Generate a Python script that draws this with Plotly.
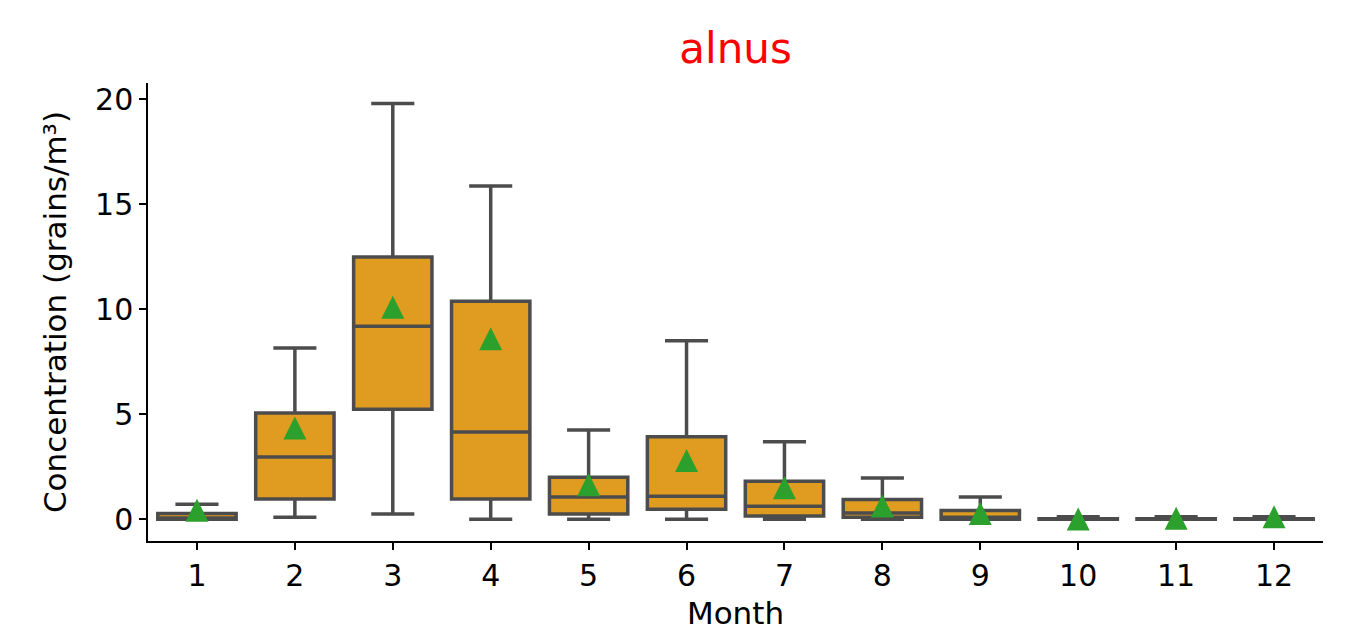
import plotly.graph_objects as go

months = ["1", "2", "3", "4", "5", "6", "7", "8", "9", "10", "11", "12"]
q1 = [0.0, 0.97, 5.24, 0.97, 0.25, 0.48, 0.16, 0.10, 0.0, 0.0, 0.0, 0.0]
median = [0.07, 2.97, 9.2, 4.16, 1.06, 1.1, 0.63, 0.3, 0.1, 0.0, 0.0, 0.0]
q3 = [0.28, 5.06, 12.49, 10.39, 2.0, 3.93, 1.82, 0.95, 0.42, 0.03, 0.03, 0.03]
lower = [0.0, 0.1, 0.25, 0.0, 0.0, 0.0, 0.0, 0.0, 0.0, 0.0, 0.0, 0.0]
upper = [0.72, 8.16, 19.8, 15.87, 4.25, 8.5, 3.7, 1.97, 1.07, 0.12, 0.12, 0.12]
means = [0.43, 4.35, 10.1, 8.6, 1.65, 2.8, 1.5, 0.64, 0.28, 0.02, 0.05, 0.12]

FONT = "DejaVu Sans"
GRAY = "#4c4c4c"
W, H = 1345, 623  # page body has an 8px margin

fig = go.Figure()
fig.add_trace(go.Box(
    x=months, q1=q1, median=median, q3=q3,
    lowerfence=lower, upperfence=upper,
    width=0.8, whiskerwidth=0.55,
    fillcolor="#df9c20",
    line=dict(color=GRAY, width=3.5),
    boxpoints=False, showlegend=False, hoverinfo="skip",
))
fig.add_trace(go.Scatter(
    x=months, y=means, mode="markers", showlegend=False,
    marker=dict(symbol="arrow-down", angle=180, size=23, standoff=11.5,
                color="#2ca02c", line=dict(width=0)),
))

fig.update_layout(
    width=W, height=H,
    paper_bgcolor="white", plot_bgcolor="white",
    margin=dict(l=140, r=30, t=75, b=90),
    font=dict(family=FONT, size=30, color="black"),
    title=dict(text="alnus", font=dict(family=FONT, size=42, color="red"),
               x=(140 + 1315) / 2 / W, xanchor="center",
               y=1 - 40 / H, yanchor="middle"),
    showlegend=False,
)
fig.update_xaxes(
    type="category", range=[-0.5, 11.5], automargin=False,
    showline=True, linecolor="black", linewidth=1.5, mirror=False,
    ticks="outside", ticklen=7, tickwidth=1.5, tickcolor="black",
    showgrid=False, zeroline=False,
    title=dict(text="Month", standoff=21, font=dict(size=31)),
    tickfont=dict(size=30),
)
fig.update_yaxes(
    range=[-1.03, 20.78], tickvals=[0, 5, 10, 15, 20], automargin=False,
    showline=True, linecolor="black", linewidth=1.5, mirror=False,
    ticks="outside", ticklen=7, tickwidth=1.5, tickcolor="black",
    showgrid=False, zeroline=False,
    title=dict(text="Concentration (grains/m³)", standoff=19, font=dict(size=31)),
    tickfont=dict(size=30),
)

fig.write_html("out.html")
